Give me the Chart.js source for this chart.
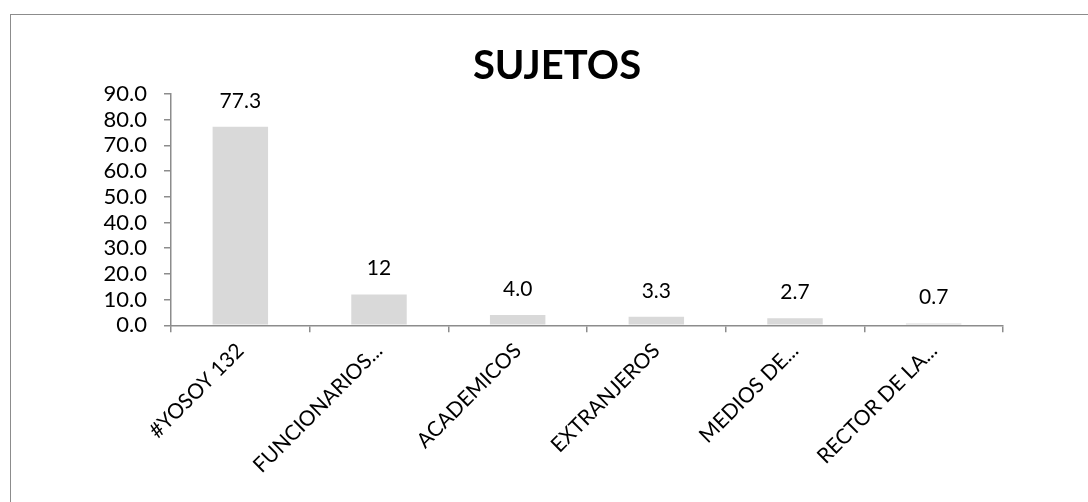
<!DOCTYPE html>
<html>
<head>
<meta charset="utf-8">
<script src="https://cdn.jsdelivr.net/npm/chart.js@4.4.1/dist/chart.umd.min.js"></script>
<style>
  html, body { margin: 0; padding: 0; background: #fff; overflow: hidden; }
  #frame {
    position: absolute; left: 10px; top: 14px;
    width: 1092px; height: 500px;
    border-left: 1.5px solid #8c8c8c; border-top: 1.5px solid #8c8c8c;
  }
  #frame canvas { display: block; }
</style>
</head>
<body>
<div id="frame"><canvas id="sujetosChart" width="1092" height="500"></canvas></div>
<script>
  // categories and values
  var categories = ['#YOSOY 132', 'FUNCIONARIOS...', 'ACADEMICOS', 'EXTRANJEROS', 'MEDIOS DE...', 'RECTOR DE LA...'];
  var values = [77.3, 12, 4.0, 3.3, 2.7, 0.7];
  var valueLabels = ['77.3', '12', '4.0', '3.3', '2.7', '0.7'];
  var yTicks = [0, 10, 20, 30, 40, 50, 60, 70, 80, 90];

  var FONT = 'Lato, "Liberation Sans", sans-serif';

  // value labels above each bar
  var barLabels = {
    id: 'barLabels',
    afterDatasetsDraw: function (chart) {
      var ctx = chart.ctx;
      var meta = chart.getDatasetMeta(0);
      ctx.save();
      ctx.font = '21px ' + FONT;
      ctx.fillStyle = '#000';
      ctx.textAlign = 'center';
      ctx.textBaseline = 'alphabetic';
      meta.data.forEach(function (bar, i) {
        ctx.fillText(valueLabels[i], bar.x, bar.y - 19);
      });
      ctx.restore();
    }
  };

  // center the title on the whole frame, not only the padded box
  var centerTitle = {
    id: 'centerTitle',
    afterLayout: function (chart) {
      if (chart.titleBlock) {
        chart.titleBlock.left = 0;
        chart.titleBlock.right = chart.width;
      }
    }
  };

  var ctx = document.getElementById('sujetosChart').getContext('2d');
  var sujetosChart = new Chart(ctx, {
    type: 'bar',
    data: {
      labels: categories,
      datasets: [{
        label: 'SUJETOS',
        data: values,
        backgroundColor: '#d9d9d9',
        borderWidth: 0,
        barPercentage: 0.4,
        categoryPercentage: 1.0
      }]
    },
    options: {
      responsive: false,
      animation: false,
      layout: { padding: { left: 90, right: 100, top: 0, bottom: 31 } },
      plugins: {
        legend: { display: false },
        tooltip: { enabled: false },
        title: {
          display: true,
          text: 'SUJETOS',
          color: '#000',
          font: { family: FONT, size: 40, weight: 'bold', lineHeight: 1.2 },
          padding: { top: 27, bottom: 4 }
        }
      },
      scales: {
        x: {
          grid: { display: true, drawOnChartArea: false, drawTicks: true, tickLength: 7, color: '#8c8c8c', lineWidth: 1.5, offset: true },
          border: { display: true, color: '#8c8c8c', width: 1.5 },
          ticks: { color: '#000', font: { family: FONT, size: 21 }, minRotation: 45, maxRotation: 45, autoSkip: false, padding: 6 }
        },
        y: {
          min: 0,
          max: 90,
          afterBuildTicks: function (axis) {
            axis.ticks = yTicks.map(function (v) { return { value: v }; });
          },
          afterFit: function (axis) { axis.width = 70; },
          grid: { display: true, drawOnChartArea: false, drawTicks: true, tickLength: 7, color: '#8c8c8c', lineWidth: 1.5 },
          border: { display: true, color: '#8c8c8c', width: 1.5 },
          ticks: {
            color: '#000',
            font: { family: FONT, size: 22 },
            padding: 17,
            autoSkip: false,
            callback: function (v) { return Number(v).toFixed(1); }
          }
        }
      }
    },
    plugins: [barLabels, centerTitle]
  });
</script>
</body>
</html>
